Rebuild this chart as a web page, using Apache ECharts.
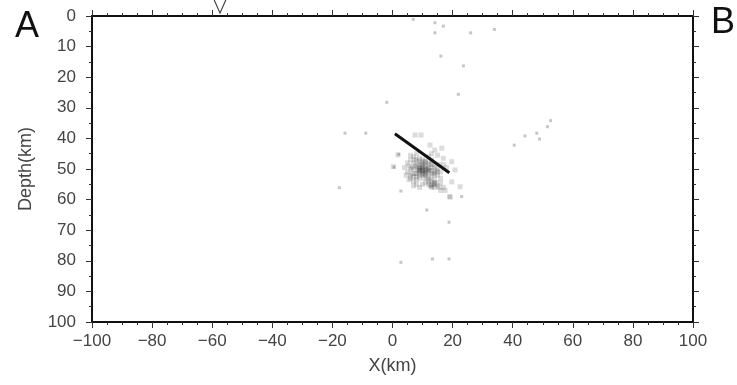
<!DOCTYPE html>
<html><head><meta charset="utf-8">
<script src="https://cdn.jsdelivr.net/npm/echarts@6/dist/echarts.min.js"></script>
<style>html,body{margin:0;padding:0;background:#fff}#c{width:737px;height:385px}</style>
</head><body><div id="c"></div>
<script>
// Profile endpoints labels
const profileLabels = ['A', 'B'];
// Station (inverted triangle) position along profile, km
const stationX = [-57.4];
// Fault trace line (x km, depth km)
const faultLine = [[0.8, 38.5], [18.9, 51.2]];
// Dense cluster events (x km, depth km)
const clusterEvents = [
 [8,49],[9,49.5],[10,50],[11,50.5],[12,51],[9,51],[10,52],[11,52],[8,51.5],[12,49.5],
 [13,50.5],[7,50],[10,48.5],[11,49],[9,50.5],[12,52.5],[13,52],[8,52.5],[10,51],[11,51.5],
 [9.5,50],[10.5,50.5],[8.5,50.5],[11.5,50],[10,49.5],[9,52],[12,50],[7.5,51.5],[10.5,53],[11.5,53],
 [8.5,48.5],[9.5,48],[7.5,49],[6.5,49.5],[6.5,51.5],[7,52.5],[8,53.5],[9,53],[12.5,53.5],[13.5,51.5],
 [13.5,49.5],[14.5,50.5],[12.5,48.5],[10.5,47.5],[9,47.5],[7.5,47],[11,48],[14,52],[15,51],[6,52],
 [9.5,51.5],[10.5,51.5],[11.5,51],[8.5,50],[12.5,50.5],[10,50.5],[11,50],[9,50],[10.5,49],[9.5,49],
 [5,48],[6,47],[6,50],[5,51],[6,53],[7,48],[7,54],[8,47],[9,46.5],[10,47],
 [11,47.5],[12,48],[13,48.5],[14,49],[14,51],[15,50],[15,52],[14,53.5],[16,51],[16,53],
 [4,49.5],[4.5,52],[7,46],[6,45.5],[8,45],[12,46],[13,47],[5.5,49],[5.5,53.5],[15.5,48.5],
 [11,54.5],[12,55],[13,55.5],[14,55],[15,55.5],[16,54.5],[13,54],[12,54],[14,56],
 [13.5,55],[14.5,54.5],[15.5,56],[13,56],[14,54.5],[12.5,55.5],[10,55],[8,55],[9,56],[7,55.5],[17,56],[17.5,57],[16,57],[19,59],[19.2,59.2],
 [12.5,42.2],[14.1,43.8],[16.4,43.2],[16.9,46.5],[19.7,47.6],[20.8,50.3],[7.5,38.9],[9.5,38.9],
 [1.8,45.4],[0.3,49.2],[22.5,55.8],[19.7,54.2],[15,45.5],[17,48.5],[18,49.5],[13,45]
];
// Scattered events (x km, depth km)
const sparseEvents = [
 [-15.8,38.3],[-8.9,38.3],[-1.9,28.2],[2.1,45.2],[0.5,49.4],[-17.7,56.1],
 [52.6,34.2],[51.6,36.2],[48,38.3],[48.9,40.2],[44.1,39.2],[40.5,42.2],
 [11.4,63.4],[18.8,67.4],[13.3,79.4],[18.8,79.4],[2.8,80.5],[2.8,57.2],[23,59],
 [6.9,1.1],[14.1,2.2],[16.9,3.3],[14.1,5.5],[26,5.5],[33.9,4.4],[16.1,13.1],[23.6,16.3],[21.9,25.6]
];
const xTicks = {min: -100, max: 100, interval: 20};
const yTicks = {min: 0, max: 100, interval: 10};

const font = '"Liberation Sans", Arial, sans-serif';
const minusFmt = v => String(v).replace('-', '\u2212');
const axisCommon = {
  axisLine: {show: true, onZero: false, lineStyle: {color: '#111', width: 2}},
  axisTick: {show: true, inside: false, length: 6, lineStyle: {color: '#333', width: 1}},
  minorTick: {show: true, length: 3, lineStyle: {color: '#333', width: 1}},
  splitLine: {show: false},
};
const chart = echarts.init(document.getElementById('c'), null, {renderer: 'canvas'});
chart.setOption({
  animation: false,
  grid: {left: 92, right: 44, top: 16, bottom: 63},
  graphic: [
    {type: 'text', left: 15, top: 9, style: {text: profileLabels[0], font: '36px ' + font, fill: '#111'}},
    {type: 'text', left: 711, top: 5, style: {text: profileLabels[1], font: '36px ' + font, fill: '#111'}}
  ],
  xAxis: [
    Object.assign({}, axisCommon, {type: 'value', position: 'bottom', min: xTicks.min, max: xTicks.max, interval: xTicks.interval,
      minorTick: Object.assign({}, axisCommon.minorTick, {splitNumber: 4}),
      axisLabel: {margin: 11, color: '#444', fontSize: 17, fontFamily: font, formatter: minusFmt},
      name: 'X(km)', nameLocation: 'middle', nameGap: 35, nameTextStyle: {color: '#444', fontSize: 18, fontFamily: font}}),
    Object.assign({}, axisCommon, {type: 'value', position: 'top', min: xTicks.min, max: xTicks.max, interval: xTicks.interval,
      minorTick: Object.assign({}, axisCommon.minorTick, {splitNumber: 4}),
      axisLabel: {show: false}})
  ],
  yAxis: [
    Object.assign({}, axisCommon, {type: 'value', position: 'left', inverse: true, min: yTicks.min, max: yTicks.max, interval: yTicks.interval,
      minorTick: Object.assign({}, axisCommon.minorTick, {splitNumber: 2}),
      axisLabel: {margin: 16, color: '#444', fontSize: 17, fontFamily: font},
      name: 'Depth(km)', nameLocation: 'middle', nameGap: 57, nameRotate: 90, nameTextStyle: {color: '#444', fontSize: 18, fontFamily: font}}),
    Object.assign({}, axisCommon, {type: 'value', position: 'right', inverse: true, min: yTicks.min, max: yTicks.max, interval: yTicks.interval,
      minorTick: Object.assign({}, axisCommon.minorTick, {splitNumber: 2}),
      axisLabel: {show: false}})
  ],
  series: [
    {type: 'scatter', data: sparseEvents, symbol: 'rect', symbolSize: 3, itemStyle: {color: 'rgba(0,0,0,0.28)'}},
    {type: 'scatter', data: clusterEvents, symbol: 'rect', symbolSize: 5, itemStyle: {color: 'rgba(40,40,40,0.2)'}},
    {type: 'line', data: faultLine, symbol: 'none', lineStyle: {color: '#111', width: 3}},
    {type: 'scatter', data: stationX.map(x => [x, 0]), clip: false, symbol: 'triangle', symbolRotate: 180, symbolSize: [16, 18], symbolOffset: [0, -12],
      itemStyle: {color: 'transparent', borderColor: '#111', borderWidth: 1.2}}
  ]
});
</script></body></html>
